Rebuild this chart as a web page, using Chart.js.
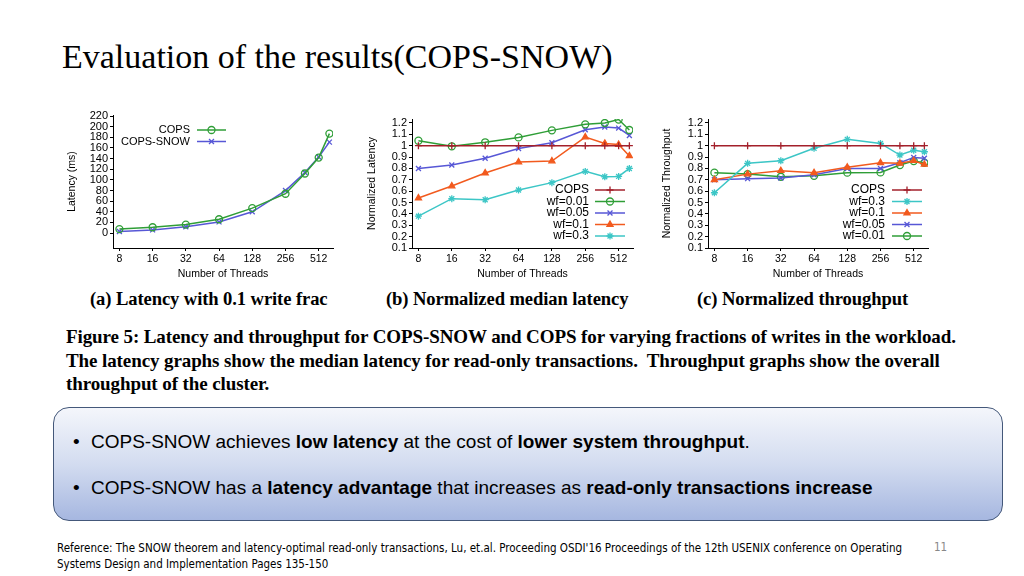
<!DOCTYPE html>
<html>
<head>
<meta charset="utf-8">
<script src="https://cdn.jsdelivr.net/npm/chart.js@4"></script>
<style>
  body { margin: 0; width: 1024px; height: 576px; background: #fff; position: relative; overflow: hidden; }
  .abs { position: absolute; white-space: nowrap; }
  #title { left: 62px; top: 38px; font: 34px "Liberation Serif", serif; color: #000; }
  canvas { position: absolute; }
  .cap { font: bold 18.6px "Liberation Serif", serif; top: 288px; letter-spacing: -0.1px; }
  #fig { left: 66px; top: 325px; font: bold 19px "Liberation Serif", serif; line-height: 23.5px; letter-spacing: -0.1px; }
  #box { left: 53px; top: 407px; width: 948px; height: 112px; border: 1.5px solid #44587a; border-radius: 16px;
         background: linear-gradient(to bottom, #f4f6fb 0%, #d3dcf0 50%, #a6b7e0 100%); }
  .bul { font: 19px "Liberation Sans", Arial, sans-serif; color: #000; }
  #ref { left: 57px; top: 540px; font: 11.5px "DejaVu Sans Condensed", "Liberation Sans", sans-serif; line-height: 16px; color: #000; }
  #page { left: 934px; top: 540px; font: 11.5px "DejaVu Sans Condensed", sans-serif; color: #888; }
</style>
</head>
<body>
<div id="title" class="abs">Evaluation of the results(COPS-SNOW)</div>

<canvas id="chartA" width="280" height="175" style="left:62px; top:105px;"></canvas>
<canvas id="chartB" width="280" height="175" style="left:362px; top:105px;"></canvas>
<canvas id="chartC" width="280" height="175" style="left:657px; top:105px;"></canvas>

<div class="abs cap" style="left:90px;">(a) Latency with 0.1 write frac</div>
<div class="abs cap" style="left:386px;">(b) Normalized median latency</div>
<div class="abs cap" style="left:697px;">(c) Normalized throughput</div>

<div id="fig" class="abs">Figure 5: Latency and throughput for COPS-SNOW and COPS for varying fractions of writes in the workload.<br>
The latency graphs show the median latency for read-only transactions.&nbsp; Throughput graphs show the overall<br>
throughput of the cluster.</div>

<div id="box" class="abs"></div>
<div class="abs bul" style="left:73px; top:431px;">•</div>
<div class="abs bul" style="left:91px; top:431px;">COPS-SNOW achieves <b>low latency</b> at the cost of <b>lower system throughput</b>.</div>
<div class="abs bul" style="left:73px; top:477px;">•</div>
<div class="abs bul" style="left:91px; top:477px;">COPS-SNOW has a <b>latency advantage</b> that increases as <b>read-only transactions increase</b></div>

<div id="ref" class="abs">Reference: The SNOW theorem and latency-optimal read-only transactions, Lu, et.al. Proceeding OSDI'16 Proceedings of the 12th USENIX conference on Operating<br>Systems Design and Implementation Pages 135-150</div>
<div id="page" class="abs">11</div>

<script>
// thread counts on the x axis (log2 spaced)
const threads = [8, 16, 32, 64, 128, 256, 384, 512, 640];
const threadTicks = [8, 16, 32, 64, 128, 256, 512];

// (a) latency in ms, write fraction 0.1
const latTicks = [0, 20, 40, 60, 80, 100, 120, 140, 160, 180, 200, 220];
const latCops = [7.5, 11, 16, 26, 47, 74, 112, 142, 187];
const latSnow = [3, 6, 12, 21, 40, 80, 114, 143, 171];

// (b) normalized median latency
const normTicks = [0.1, 0.2, 0.3, 0.4, 0.5, 0.6, 0.7, 0.8, 0.9, 1, 1.1, 1.2];
const copsBase = [1, 1, 1, 1, 1, 1, 1, 1, 1];
const latWf001 = [1.044, 0.995, 1.03, 1.073, 1.135, 1.188, 1.2, 1.23, 1.138];
const latWf005 = [0.80, 0.83, 0.89, 0.975, 1.026, 1.14, 1.165, 1.155, 1.09];
const latWf01 = [0.54, 0.645, 0.76, 0.856, 0.865, 1.076, 1.02, 1.01, 0.91];
const latWf03 = [0.38, 0.534, 0.525, 0.61, 0.675, 0.774, 0.727, 0.73, 0.80];

// (c) normalized throughput
const thrWf03 = [0.586, 0.845, 0.868, 0.977, 1.056, 1.02, 0.918, 0.96, 0.947];
const thrWf01 = [0.70, 0.75, 0.78, 0.762, 0.81, 0.85, 0.845, 0.868, 0.835];
const thrWf005 = [0.70, 0.71, 0.715, 0.745, 0.80, 0.80, 0.85, 0.897, 0.89];
const thrWf001 = [0.763, 0.75, 0.727, 0.735, 0.763, 0.765, 0.83, 0.865, 0.85];

// gnuplot colours
const RED = '#a3202b', GREEN = '#2f9e37', BLUE = '#5757d6', ORANGE = '#f25a1e', CYAN = '#3cc6c6';
const FAMILY = '"Liberation Sans", Arial, sans-serif';
const FONT = { family: FAMILY, size: 10.5 };
const YFONT = { family: FAMILY, size: 11 };

function pts(ys) {
  return threads.map((t, i) => ({ x: t, y: ys[i] }));
}

function series(label, ys, color, style) {
  return {
    label: label,
    data: pts(ys),
    borderColor: color,
    backgroundColor: style === 'triangle' ? color : 'rgba(0,0,0,0)',
    pointBorderColor: color,
    pointBackgroundColor: style === 'triangle' ? color : 'rgba(0,0,0,0)',
    pointStyle: style,
    pointRadius: 3.5,
    pointBorderWidth: 1.3,
    borderWidth: 1.5,
    tension: 0
  };
}

// legend drawn inside the plot, gnuplot style: text, then sample line with marker
const gnuLegend = {
  id: 'gnuLegend',
  afterDatasetsDraw(chart, args, opts) {
    const ctx = chart.ctx;
    ctx.save();
    ctx.font = opts.size + 'px ' + FAMILY;
    ctx.textAlign = 'right';
    ctx.textBaseline = 'middle';
    chart.data.datasets.forEach((ds, i) => {
      const y = opts.y + i * opts.row;
      ctx.fillStyle = '#000';
      ctx.fillText(ds.label, opts.textX, y);
      ctx.strokeStyle = ds.borderColor;
      ctx.lineWidth = 1.5;
      ctx.beginPath();
      ctx.moveTo(opts.x0, y);
      ctx.lineTo(opts.x1, y);
      ctx.stroke();
      ctx.fillStyle = ds.pointBackgroundColor;
      ctx.lineWidth = ds.pointBorderWidth;
      Chart.helpers.drawPoint(ctx, { pointStyle: ds.pointStyle, radius: ds.pointRadius, rotation: 0, borderWidth: ds.pointBorderWidth }, (opts.x0 + opts.x1) / 2, y);
    });
    ctx.restore();
  }
};

function makeChart(id, datasets, yOpts, pad, yWidth, legend, yTitle) {
  new Chart(document.getElementById(id), {
    type: 'line',
    data: { datasets: datasets },
    plugins: [gnuLegend],
    options: {
      responsive: false,
      animation: false,
      layout: { padding: pad },
      plugins: { legend: { display: false }, tooltip: { enabled: false }, gnuLegend: legend },
      scales: {
        x: {
          type: 'logarithmic', min: 7, max: 690,
          afterBuildTicks: s => { s.ticks = threadTicks.map(v => ({ value: v })); },
          afterFit: s => { s.height = 32; },
          ticks: { color: '#000', font: FONT, padding: 2, maxRotation: 0, autoSkip: false, callback: v => String(v) },
          grid: { drawOnChartArea: false, tickLength: 3, color: '#000' },
          border: { color: '#000', width: 1 },
          title: { display: true, text: 'Number of Threads', color: '#000', font: FONT, padding: { top: 0, bottom: 0 } }
        },
        y: {
          min: yOpts.min, max: yOpts.max,
          afterBuildTicks: s => { s.ticks = yOpts.ticks.map(v => ({ value: v })); },
          afterFit: s => { s.width = yWidth; },
          ticks: { color: '#000', font: YFONT, padding: 2, autoSkip: false, callback: v => String(+v.toFixed(1)) },
          grid: { drawOnChartArea: false, tickLength: 3, color: '#000' },
          border: { color: '#000', width: 1 },
          title: { display: true, text: yTitle, color: '#000', font: FONT, padding: { top: 4, bottom: 1 } }
        }
      }
    }
  });
}

makeChart('chartA', [
  series('COPS', latCops, GREEN, 'circle'),
  series('COPS-SNOW', latSnow, BLUE, 'crossRot')
], { min: -28, max: 222, ticks: latTicks }, { top: 10, right: 9 }, 51,
  { textX: 128, x0: 135, x1: 164, y: 25, row: 11.5, size: 11 }, 'Latency (ms)');

makeChart('chartB', [
  series('COPS', copsBase, RED, 'cross'),
  series('wf=0.01', latWf001, GREEN, 'circle'),
  series('wf=0.05', latWf005, BLUE, 'crossRot'),
  series('wf=0.1', latWf01, ORANGE, 'triangle'),
  series('wf=0.3', latWf03, CYAN, 'star')
], { min: 0.1, max: 1.235, ticks: normTicks }, { top: 14, right: 9 }, 50,
  { textX: 227, x0: 233, x1: 263, y: 85, row: 11.5, size: 12 }, 'Normalized Latency');

makeChart('chartC', [
  series('COPS', copsBase, RED, 'cross'),
  series('wf=0.3', thrWf03, CYAN, 'star'),
  series('wf=0.1', thrWf01, ORANGE, 'triangle'),
  series('wf=0.05', thrWf005, BLUE, 'crossRot'),
  series('wf=0.01', thrWf001, GREEN, 'circle')
], { min: 0.1, max: 1.235, ticks: normTicks }, { top: 14, right: 9 }, 51,
  { textX: 228, x0: 235, x1: 265, y: 85, row: 11.5, size: 12 }, 'Normalized Throughput');
</script>
</body>
</html>
